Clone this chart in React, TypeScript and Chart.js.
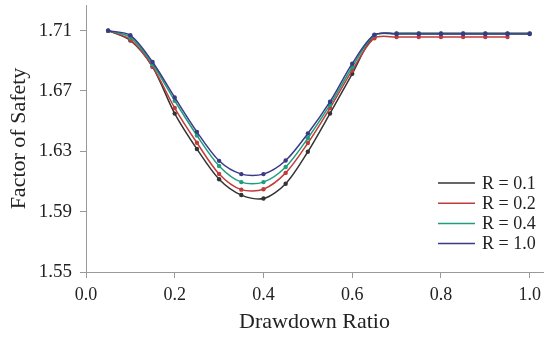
import React, { useEffect, useRef } from "react";
import { Chart, registerables } from "chart.js";

Chart.register(...registerables);

const drawdown = [0.05, 0.1, 0.15, 0.2, 0.25, 0.3, 0.35, 0.4, 0.45, 0.5, 0.55, 0.6, 0.65, 0.7, 0.75, 0.8, 0.85, 0.9, 0.95, 1.0];
const fsR01 = [1.71, 1.7035, 1.686, 1.655, 1.6315, 1.6115, 1.601, 1.5987, 1.6085, 1.6297, 1.6551, 1.6814, 1.7068, 1.7082, 1.7082, 1.7082, 1.7082, 1.7082, 1.7082, 1.7082];
const fsR02 = [1.71, 1.704, 1.6862, 1.6587, 1.6357, 1.615, 1.6046, 1.6049, 1.6157, 1.6355, 1.6587, 1.6836, 1.705, 1.7058, 1.7058, 1.7058, 1.7058, 1.7058, 1.7058, null];
const fsR04 = [1.71, 1.7055, 1.6877, 1.6635, 1.6405, 1.6203, 1.6096, 1.6096, 1.6196, 1.6387, 1.6609, 1.6859, 1.707, 1.708, 1.708, 1.708, 1.708, 1.708, 1.708, 1.708];
const fsR10 = [1.71, 1.7069, 1.6892, 1.6657, 1.6429, 1.6237, 1.6149, 1.6149, 1.6239, 1.6418, 1.6629, 1.6881, 1.7073, 1.7078, 1.7078, 1.7078, 1.7078, 1.7078, 1.7078, 1.7078];
const seriesLabels = ["R = 0.1", "R = 0.2", "R = 0.4", "R = 1.0"];
const xTicks = [0.0, 0.2, 0.4, 0.6, 0.8, 1.0];
const yTicks = [1.55, 1.59, 1.63, 1.67, 1.71];

const FONT = "'Liberation Serif', 'Times New Roman', serif";
const colors = ["#333333", "#c23b3b", "#1f9e7e", "#3a3a86"];

// Legend drawn inside the chart area (lower right), built from the datasets
const insideLegend = {
  id: "insideLegend",
  afterDatasetsDraw(chart: any) {
    const ctx = chart.ctx;
    const area = chart.chartArea;
    const lineLen = 37;
    const gap = 7;
    const rowH = 20.2;
    const x0 = area.right - 105;
    const y0 = area.bottom - 89;
    ctx.save();
    ctx.font = `18px ${FONT}`;
    ctx.textBaseline = "middle";
    ctx.textAlign = "left";
    chart.data.datasets.forEach((ds: any, i: number) => {
      const y = y0 + i * rowH;
      ctx.strokeStyle = ds.borderColor;
      ctx.lineWidth = 1.5;
      ctx.beginPath();
      ctx.moveTo(x0, y);
      ctx.lineTo(x0 + lineLen, y);
      ctx.stroke();
      ctx.fillStyle = "#222";
      ctx.fillText(ds.label, x0 + lineLen + gap, y + 1);
    });
    ctx.restore();
  },
};

export default function App() {
  const ref = useRef<HTMLCanvasElement | null>(null);
  useEffect(() => {
    if (!ref.current) return;
    const series = [fsR01, fsR02, fsR04, fsR10];
    const datasets = series.map((s, i) => ({
      label: seriesLabels[i],
      data: drawdown.map((x, j) => ({ x, y: s[j] })).filter((p) => p.y !== null),
      borderColor: colors[i],
      backgroundColor: colors[i],
      borderWidth: 1.5,
      pointRadius: 2.2,
      pointBorderWidth: 0,
      pointBackgroundColor: colors[i],
      tension: 0.3,
      order: 3 - i,
      fill: false,
    }));
    const chart = new Chart(ref.current, {
      type: "line",
      data: { datasets },
      plugins: [insideLegend],
      options: {
        animation: false,
        responsive: true,
        maintainAspectRatio: false,
        layout: { padding: { top: 5, right: 7, left: 0, bottom: 0 } },
        plugins: {
          legend: { display: false },
          tooltip: { enabled: false },
        },
        scales: {
          x: {
            type: "linear",
            min: 0,
            max: 1.03,
            afterBuildTicks: (axis: any) => {
              axis.ticks = xTicks.map((v) => ({ value: v }));
            },
            afterFit: (scale: any) => {
              scale.height = 66;
            },
            ticks: {
              color: "#222",
              font: { family: FONT, size: 18 },
              padding: 6,
              maxRotation: 0,
              callback: (v: any) => Number(v).toFixed(1),
            },
            grid: { display: true, drawOnChartArea: false, drawTicks: true, tickLength: 6, color: "#999" },
            border: { display: true, color: "#999", width: 1 },
            title: {
              display: true,
              text: "Drawdown Ratio",
              color: "#222",
              font: { family: FONT, size: 22 },
              padding: { top: 0, bottom: 3 },
            },
          },
          y: {
            type: "linear",
            min: 1.55,
            max: 1.727,
            afterBuildTicks: (axis: any) => {
              axis.ticks = yTicks.map((v) => ({ value: v }));
            },
            afterFit: (scale: any) => {
              scale.width = 86;
              scale.paddingTop = 0;
              scale.paddingBottom = 0;
            },
            ticks: {
              color: "#222",
              font: { family: FONT, size: 19 },
              padding: 8,
              callback: (v: any) => Number(v).toFixed(2),
            },
            grid: { display: true, drawOnChartArea: false, drawTicks: true, tickLength: 6, color: "#999" },
            border: { display: true, color: "#999", width: 1 },
            title: {
              display: true,
              text: "Factor of Safety",
              color: "#222",
              font: { family: FONT, size: 22 },
              padding: { top: 6, bottom: 0 },
            },
          },
        },
      },
    });
    return () => chart.destroy();
  }, []);
  return (
    <div style={{ position: "fixed", left: 0, top: 0, width: 550, height: 338, background: "#fff" }}>
      <canvas ref={ref} />
    </div>
  );
}
